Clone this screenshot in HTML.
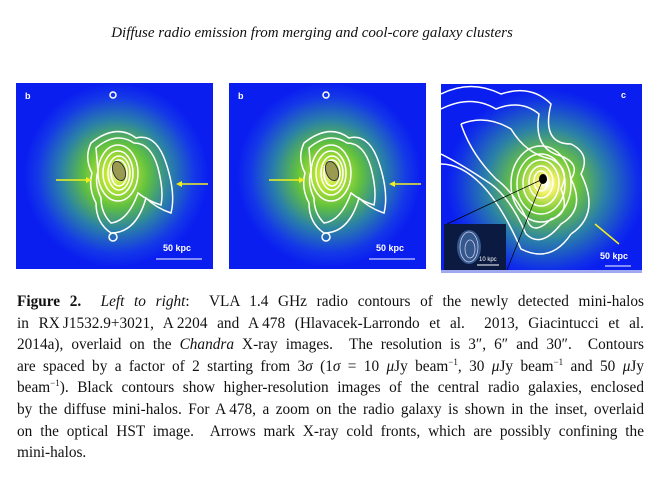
<!DOCTYPE html>
<html><head><meta charset="utf-8"><style>
body{margin:0;width:658px;height:494px;background:#fff;overflow:hidden;position:relative;font-family:"Liberation Serif",serif;}
.title{position:absolute;top:25px;left:0;width:624px;text-align:center;font-style:italic;font-size:15px;color:#111;}
.cap{position:absolute;left:17px;top:291px;width:627px;font-size:15.3px;line-height:21.6px;color:#111;}
.cap div{text-align:justify;text-align-last:justify;white-space:nowrap;}
.cap div.l{text-align-last:left;}
sup{font-size:9px;line-height:0;}
svg{position:absolute;}
</style></head><body>
<div class="title">Diffuse radio emission from merging and cool-core galaxy clusters</div>

<svg width="658" height="280" style="left:0;top:0">
<defs>
<clipPath id="c1"><rect width="197" height="186"/></clipPath>
<clipPath id="c3"><rect width="201" height="186"/></clipPath>
<radialGradient id="g1" cx="0.5" cy="0.5" r="0.5">
<stop offset="0" stop-color="#f0f8a0"/><stop offset="0.12" stop-color="#c0e830"/><stop offset="0.35" stop-color="#60c040"/><stop offset="0.6" stop-color="#2a80a8"/><stop offset="0.85" stop-color="#1438e8"/><stop offset="1" stop-color="#0a1ef0"/>
</radialGradient>
<radialGradient id="g3" cx="0.5" cy="0.5" r="0.5">
<stop offset="0" stop-color="#ffffff"/><stop offset="0.1" stop-color="#f0f060"/><stop offset="0.3" stop-color="#70c838"/><stop offset="0.6" stop-color="#2a80a8"/><stop offset="0.9" stop-color="#1030e8"/><stop offset="1" stop-color="#0a1ef0"/>
</radialGradient>
<g id="p1">
<g clip-path="url(#c1)">
<rect width="197" height="186" fill="#0a1ef0"/>
<ellipse cx="100" cy="92" rx="92" ry="92" fill="url(#g1)"/>
</g>
<g fill="none" stroke="#fff" stroke-width="1.5">
<path d="M75 60 Q100 40 120 55 Q140 50 150 80 Q160 110 155 130 Q140 125 130 115 Q120 150 95 150 Q80 140 80 120 Q72 105 76 90 Q68 75 75 60Z"/>
<path d="M80 65 Q100 48 118 60 Q135 60 142 85 Q148 108 145 122 Q132 118 122 110 Q112 138 95 140 Q85 130 85 115 Q78 100 82 88Z"/>
<ellipse cx="102" cy="90" rx="20" ry="28"/>
<ellipse cx="102" cy="90" rx="15" ry="22"/>
<ellipse cx="103" cy="90" rx="11" ry="17"/>
<ellipse cx="103" cy="90" rx="8" ry="13"/>
<circle cx="97" cy="154" r="4"/><circle cx="97" cy="12" r="3"/>
</g>
<ellipse cx="103" cy="88" rx="6" ry="10" fill="#9a9a50" stroke="#333" transform="rotate(-20 103 88)"/>
<path d="M40 97 L75 97" stroke="#f0f020" stroke-width="1.5"/><path d="M76 97 l-6 -3 v6z" fill="#f0f020"/>
<path d="M192 101 L162 101" stroke="#f0f020" stroke-width="1.5"/><path d="M160 101 l6 -3 v6z" fill="#f0f020"/>
<text x="9" y="16" fill="#fff" font-family="Liberation Sans" font-weight="bold" font-size="9">b</text>
<text x="147" y="168" fill="#fff" font-family="Liberation Sans" font-weight="bold" font-size="9">50 kpc</text>
<line x1="140" y1="176" x2="186" y2="176" stroke="#fff"/>
</g>
</defs>
<use href="#p1" x="16" y="83"/>
<use href="#p1" x="229" y="83"/>
<g transform="translate(441,84)">
<g clip-path="url(#c3)">
<rect width="201" height="186" fill="#0a1ef0"/>
<ellipse cx="105" cy="100" rx="100" ry="95" fill="url(#g3)"/>
<g fill="none" stroke="#fff" stroke-width="1.5">
<path d="M0 10 Q30 -5 60 10 Q90 0 110 20 Q100 60 130 60 Q150 70 140 90 Q160 130 130 150 Q110 180 80 165 Q60 120 40 100 Q20 80 0 80"/>
<path d="M0 25 Q30 10 55 25 Q80 15 98 30 Q92 65 120 72 Q140 80 130 95 Q145 125 120 140 Q100 165 85 150 Q70 115 50 100 Q20 80 0 70"/>
<path d="M20 40 Q45 30 70 45 Q85 70 110 75 Q130 85 120 105 Q130 130 110 135 Q95 150 88 140 Q75 110 55 95 Q30 70 20 40"/>
<ellipse cx="100" cy="100" rx="30" ry="38"/>
<ellipse cx="100" cy="100" rx="24" ry="30"/>
<ellipse cx="100" cy="99" rx="18" ry="23"/>
<ellipse cx="100" cy="98" rx="12" ry="16"/>
<ellipse cx="100" cy="97" rx="7" ry="10"/>
</g>
<ellipse cx="102" cy="95" rx="4" ry="5" fill="#000"/>
<line x1="102" y1="95" x2="6" y2="140" stroke="#000" stroke-width="0.7"/>
<line x1="102" y1="95" x2="66" y2="186" stroke="#000" stroke-width="0.7"/>
<path d="M154 140 L178 160" stroke="#f0f020" stroke-width="1.5"/>
<rect x="3" y="140" width="62" height="46" fill="#0a1a40"/>
<ellipse cx="28" cy="163" rx="12" ry="17" fill="#5080c0" opacity="0.6"/>
<ellipse cx="28" cy="163" rx="9" ry="15" fill="none" stroke="#cce" stroke-width="0.8"/>
<ellipse cx="29" cy="165" rx="5" ry="9" fill="none" stroke="#cce" stroke-width="0.8"/>
<text x="38" y="177" fill="#fff" font-family="Liberation Sans" font-size="6">10 kpc</text>
<line x1="36" y1="181" x2="58" y2="181" stroke="#fff"/>
<text x="180" y="14" fill="#fff" font-family="Liberation Sans" font-weight="bold" font-size="9">c</text>
<text x="159" y="175" fill="#fff" font-family="Liberation Sans" font-weight="bold" font-size="9">50 kpc</text>
<line x1="164" y1="182" x2="190" y2="182" stroke="#fff"/>
</g>
<rect y="186" width="201" height="3" fill="#a0a8f0"/>
</g>
</svg>

<div class="cap">
<div><b>Figure 2.</b>&nbsp; <i>Left to right</i>: &nbsp;VLA 1.4 GHz radio contours of the newly detected mini-halos</div>
<div>in RX&#8201;J1532.9+3021, A&#8201;2204 and A&#8201;478 (Hlavacek-Larrondo et al. &nbsp;2013, Giacintucci et al.</div>
<div>2014a), overlaid on the <i>Chandra</i> X-ray images. &nbsp;The resolution is 3&Prime;, 6&Prime; and 30&Prime;. &nbsp;Contours</div>
<div>are spaced by a factor of 2 starting from 3<i>σ</i> (1<i>σ</i> = 10 <i>μ</i>Jy beam<sup>−1</sup>, 30 <i>μ</i>Jy beam<sup>−1</sup> and 50 <i>μ</i>Jy</div>
<div>beam<sup>−1</sup>). Black contours show higher-resolution images of the central radio galaxies, enclosed</div>
<div>by the diffuse mini-halos. For A&#8201;478, a zoom on the radio galaxy is shown in the inset, overlaid</div>
<div>on the optical HST image. &nbsp;Arrows mark X-ray cold fronts, which are possibly confining the</div>
<div class="l">mini-halos.</div>
</div>
</body></html>
